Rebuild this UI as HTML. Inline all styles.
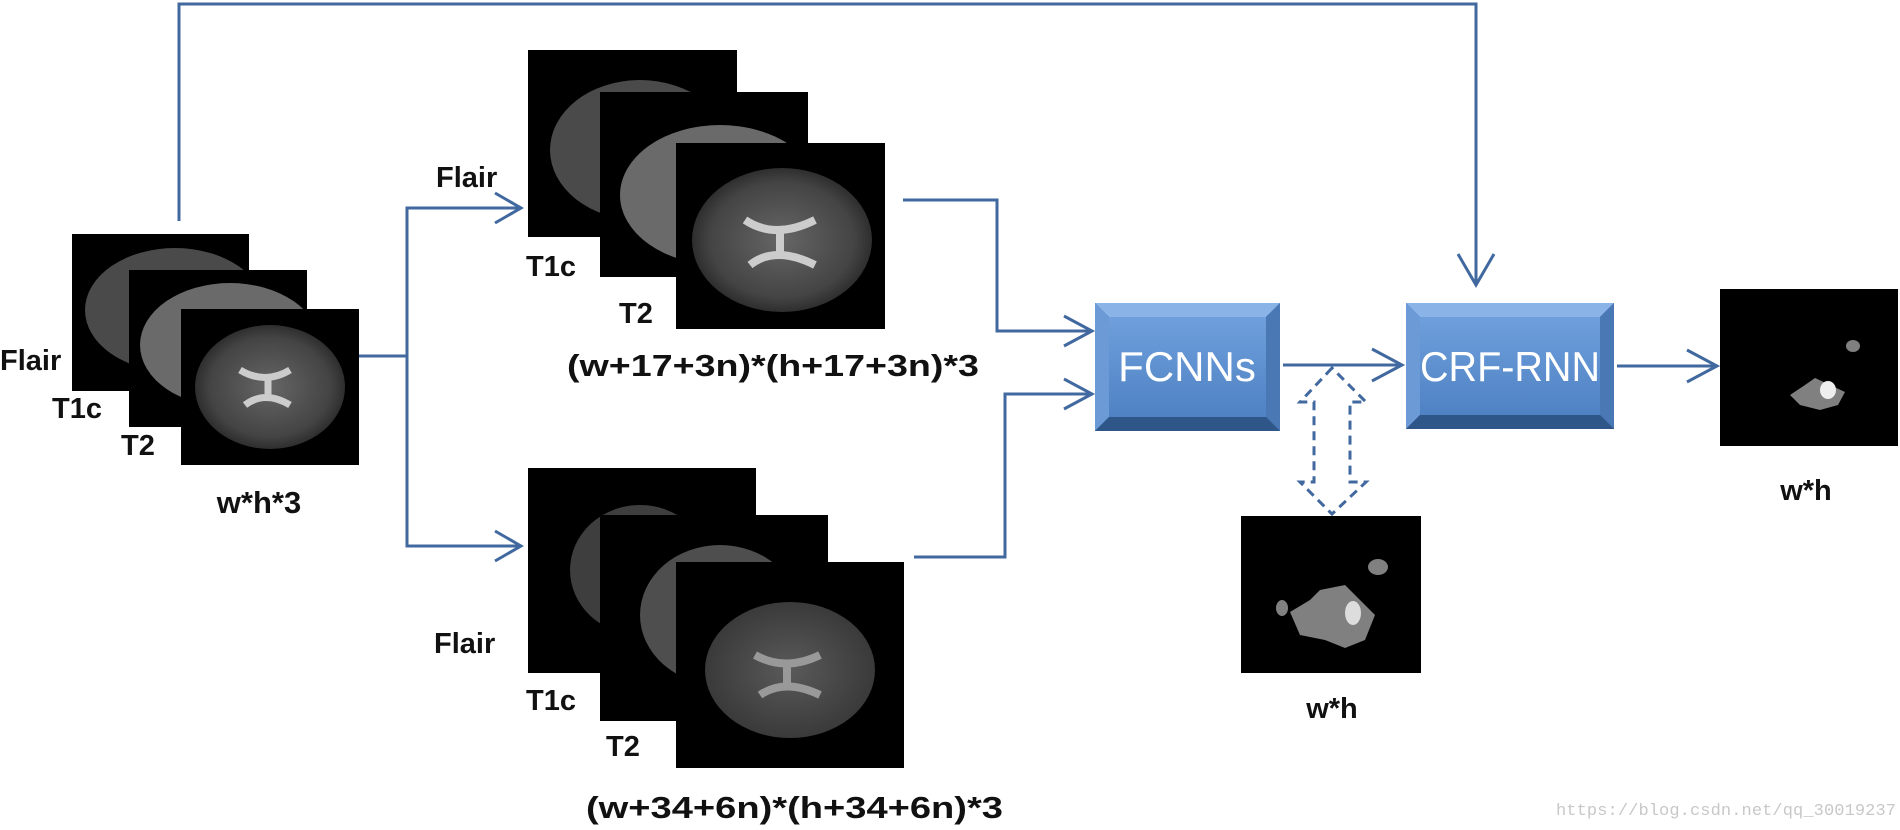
<!DOCTYPE html>
<html><head><meta charset="utf-8"><style>
html,body{margin:0;padding:0;background:#fff;}
svg{display:block}
text{font-family:"Liberation Sans",sans-serif;font-weight:bold;fill:#111}
</style></head><body>
<svg width="1900" height="830" viewBox="0 0 1900 830" xmlns="http://www.w3.org/2000/svg">
<defs>
<radialGradient id="brain" cx="50%" cy="50%" r="50%">
<stop offset="0" stop-color="#666"/><stop offset="0.8" stop-color="#444"/><stop offset="1" stop-color="#2e2e2e"/>
</radialGradient>
<radialGradient id="brainb" cx="50%" cy="50%" r="50%">
<stop offset="0" stop-color="#5a5a5a"/><stop offset="1" stop-color="#3a3a3a"/>
</radialGradient>
<linearGradient id="boxg" x1="0" y1="0" x2="0" y2="1">
<stop offset="0" stop-color="#6f9fdc"/><stop offset="1" stop-color="#4f82c4"/>
</linearGradient>
</defs>

<g fill="none" stroke="#41699f" stroke-width="3">
<polyline points="179,221 179,4 1476,4 1476,284"/>
<polyline points="1458,254 1476,285 1494,254"/>
<polyline points="359,356 407,356"/>
<polyline points="519,208 407,208 407,546 519,546"/>
<polyline points="495,193 521,208 495,223"/>
<polyline points="495,531 521,546 495,561"/>
<polyline points="903,200 997,200 997,331 1090,331"/>
<polyline points="914,557 1005,557 1005,394 1090,394"/>
<polyline points="1064,316 1092,331 1064,346"/>
<polyline points="1064,379 1092,394 1064,409"/>
<line x1="1283" y1="365" x2="1400" y2="365"/>
<polyline points="1372,349 1402,365 1372,381"/>
<line x1="1617" y1="366" x2="1715" y2="366"/>
<polyline points="1687,350 1717,366 1687,382"/>
<path stroke-dasharray="9,6" d="M1332,368 L1300,402 L1314,402 L1314,482 L1300,482 L1332,514 L1366,482 L1350,482 L1350,402 L1366,402 Z"/>
</g>

<g>
<rect x="1095" y="303" width="185" height="128" fill="#3d679f"/>
<polygon points="1095,303 1280,303 1266,317 1109,317" fill="#8ab4e8"/>
<polygon points="1095,303 1109,317 1109,417 1095,431" fill="#6c9ad6"/>
<polygon points="1280,303 1280,431 1266,417 1266,317" fill="#4a78b5"/>
<polygon points="1095,431 1109,417 1266,417 1280,431" fill="#2f5688"/>
<rect x="1109" y="317" width="157" height="100" fill="url(#boxg)"/>
<text x="1187" y="381" text-anchor="middle" style="font-weight:normal;font-size:42px;fill:#fff">FCNNs</text>

<rect x="1406" y="303" width="208" height="126" fill="#3d679f"/>
<polygon points="1406,303 1614,303 1600,317 1420,317" fill="#8ab4e8"/>
<polygon points="1406,303 1420,317 1420,415 1406,429" fill="#6c9ad6"/>
<polygon points="1614,303 1614,429 1600,415 1600,317" fill="#4a78b5"/>
<polygon points="1406,429 1420,415 1600,415 1614,429" fill="#2f5688"/>
<rect x="1420" y="317" width="180" height="98" fill="url(#boxg)"/>
<text x="1510" y="381" text-anchor="middle" textLength="180" lengthAdjust="spacingAndGlyphs" style="font-weight:normal;font-size:42px;fill:#fff">CRF-RNN</text>
</g>

<!-- stack 1 -->
<rect x="72" y="234" width="177" height="157" fill="#000"/>
<ellipse cx="175" cy="310" rx="90" ry="62" fill="#4a4a4a"/>
<rect x="129" y="270" width="178" height="157" fill="#000"/>
<ellipse cx="230" cy="345" rx="90" ry="62" fill="#6a6a6a"/>
<rect x="181" y="309" width="178" height="156" fill="#000"/>
<ellipse cx="270" cy="387" rx="75" ry="62" fill="url(#brain)"/>
<path d="M240,370 Q265,385 290,370 M245,405 Q265,390 290,405 M268,375 L268,400" stroke="#ccc" stroke-width="7" fill="none"/>
<text x="0" y="370" font-size="29">Flair</text>
<text x="52" y="418" font-size="29">T1c</text>
<text x="121" y="455" font-size="29">T2</text>
<text x="259" y="513" font-size="31" text-anchor="middle">w*h*3</text>

<!-- stack 2 -->
<rect x="528" y="50" width="209" height="187" fill="#000"/>
<ellipse cx="640" cy="150" rx="90" ry="70" fill="#4a4a4a"/>
<rect x="600" y="92" width="208" height="185" fill="#000"/>
<ellipse cx="720" cy="195" rx="100" ry="70" fill="#6a6a6a"/>
<rect x="676" y="143" width="209" height="186" fill="#000"/>
<ellipse cx="782" cy="240" rx="90" ry="72" fill="url(#brain)"/>
<path d="M745,220 Q775,240 815,220 M750,265 Q775,245 815,265 M780,228 L780,255" stroke="#ccc" stroke-width="8" fill="none"/>
<text x="436" y="187" font-size="29">Flair</text>
<text x="526" y="276" font-size="29">T1c</text>
<text x="619" y="323" font-size="29">T2</text>
<text x="567" y="376" font-size="31" textLength="412" lengthAdjust="spacingAndGlyphs">(w+17+3n)*(h+17+3n)*3</text>

<!-- stack 3 -->
<rect x="528" y="468" width="228" height="205" fill="#000"/>
<ellipse cx="640" cy="570" rx="70" ry="65" fill="#3e3e3e"/>
<rect x="600" y="515" width="228" height="206" fill="#000"/>
<ellipse cx="720" cy="615" rx="80" ry="70" fill="#4e4e4e"/>
<rect x="676" y="562" width="228" height="206" fill="#000"/>
<ellipse cx="790" cy="670" rx="85" ry="68" fill="url(#brainb)"/>
<path d="M755,655 Q785,672 820,655 M760,695 Q785,678 820,695 M787,662 L787,688" stroke="#999" stroke-width="8" fill="none"/>
<text x="434" y="653" font-size="29">Flair</text>
<text x="526" y="710" font-size="29">T1c</text>
<text x="606" y="756" font-size="29">T2</text>
<text x="586" y="818" font-size="31" textLength="417" lengthAdjust="spacingAndGlyphs">(w+34+6n)*(h+34+6n)*3</text>

<!-- middle output -->
<rect x="1241" y="516" width="180" height="157" fill="#000"/>
<path d="M1290,612 L1310,600 L1320,590 L1345,585 L1360,600 L1375,615 L1365,640 L1345,648 L1325,640 L1300,635 Z" fill="#808080"/>
<ellipse cx="1378" cy="567" rx="10" ry="8" fill="#808080"/>
<ellipse cx="1282" cy="608" rx="6" ry="8" fill="#808080"/>
<ellipse cx="1353" cy="613" rx="8" ry="12" fill="#ddd"/>
<text x="1332" y="718" font-size="29" text-anchor="middle">w*h</text>

<!-- final output -->
<rect x="1720" y="289" width="178" height="157" fill="#000"/>
<path d="M1790,395 L1805,385 L1815,378 L1830,385 L1845,392 L1838,405 L1820,410 L1800,405 Z" fill="#808080"/>
<ellipse cx="1853" cy="346" rx="7" ry="6" fill="#808080"/>
<ellipse cx="1828" cy="390" rx="8" ry="9" fill="#eee"/>
<text x="1806" y="500" font-size="29" text-anchor="middle">w*h</text>

<text x="1556" y="815" style="font-family:'Liberation Mono',monospace;font-weight:normal;font-size:17px;fill:#c8c8c8" textLength="340">https://blog.csdn.net/qq_30019237</text>
</svg>
</body></html>
